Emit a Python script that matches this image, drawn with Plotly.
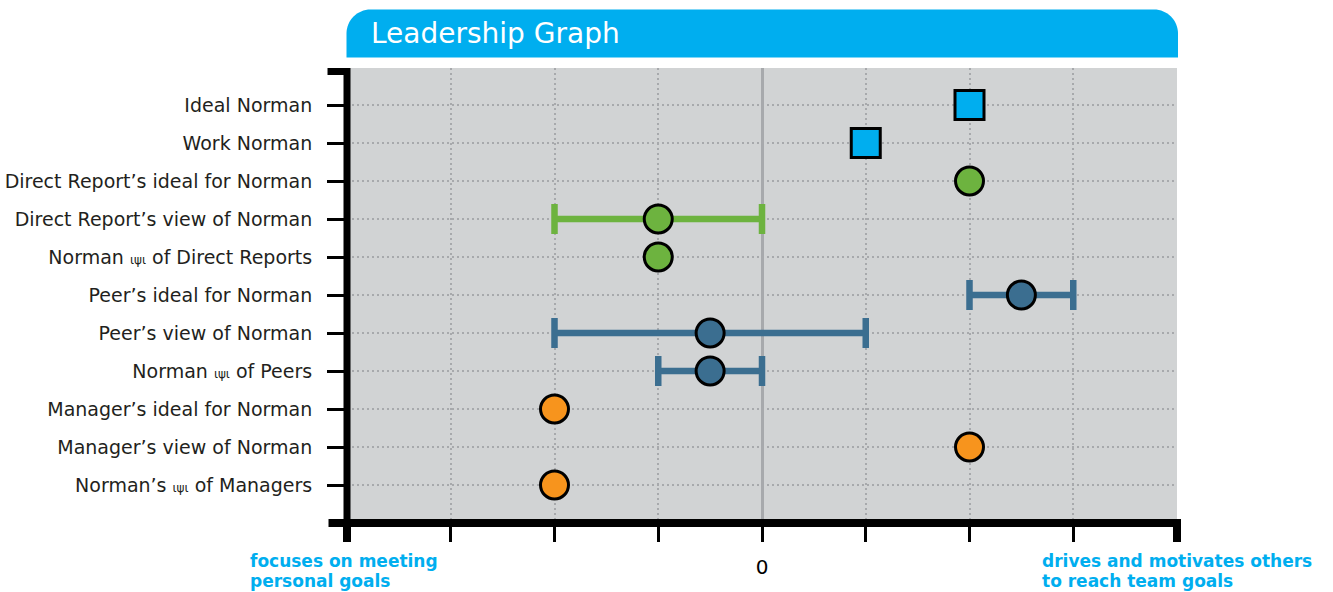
import plotly.graph_objects as go

# ---------------- data ----------------
categories = [
    "Ideal Norman",
    "Work Norman",
    "Direct Report’s ideal for Norman",
    "Direct Report’s view of Norman",
    "Norman <span style='font-size:12px'>ιψι</span> of Direct Reports",
    "Peer’s ideal for Norman",
    "Peer’s view of Norman",
    "Norman <span style='font-size:12px'>ιψι</span> of Peers",
    "Manager’s ideal for Norman",
    "Manager’s view of Norman",
    "Norman’s <span style='font-size:12px'>ιψι</span> of Managers",
]
values = [2, 1, 2, -1, -1, 2.5, -0.5, -0.5, -2, 2, -2]
range_low = [None, None, None, -2, None, 2, -2, -1, None, None, None]
range_high = [None, None, None, 0, None, 3, 1, 0, None, None, None]
groups = ["self", "self", "direct", "direct", "direct", "peer", "peer", "peer",
          "manager", "manager", "manager"]
x_ticks = [-4, -3, -2, -1, 0, 1, 2, 3, 4]
x_tick_labels = ["", "", "", "", "0", "", "", "", ""]

title_text = "Leadership Graph"
left_note = ["focuses on meeting", "personal goals"]
right_note = ["drives and motivates others", "to reach team goals"]

# ---------------- styles ----------------
style = {
    "self": dict(color="#00aeef", symbol="square", size=29),
    "direct": dict(color="#6db33f", symbol="circle", size=28),
    "peer": dict(color="#3b6e90", symbol="circle", size=28),
    "manager": dict(color="#f7941d", symbol="circle", size=28),
}

W, H = 1333, 592
L, R, T, B = 346.5, 1177, 68, 519  # plot area in page px


def px(xp):
    return (xp - L) / (R - L)


def py(yp):
    return (B - yp) / (B - T)


fig = go.Figure()
rows = list(range(len(categories)))
for i, (v, g) in enumerate(zip(values, groups)):
    st = style[g]
    kw = {}
    if range_low[i] is not None:
        kw["error_x"] = dict(
            type="data", symmetric=False,
            array=[range_high[i] - v], arrayminus=[v - range_low[i]],
            color=st["color"], thickness=6.5, width=15,
        )
    fig.add_trace(go.Scatter(
        x=[v], y=[rows[i]], mode="markers",
        marker=dict(color=st["color"], symbol=st["symbol"], size=st["size"],
                    line=dict(color="#000000", width=3)),
        showlegend=False, hoverinfo="skip", cliponaxis=False, **kw,
    ))

# ---------------- decorations ----------------
shapes = []
shapes.append(dict(type="path", xref="paper", yref="paper",
                   path=f"M {px(327)},{py(71.5)} L {px(346.5)},{py(71.5)} L {px(346.5)},{py(527)}",
                   line=dict(color="black", width=7), layer="above"))
shapes.append(dict(type="line", xref="paper", yref="paper",
                   x0=px(328), x1=px(1181), y0=py(523), y1=py(523),
                   line=dict(color="black", width=8), layer="above"))
for xe in (346.5, 1177):
    shapes.append(dict(type="line", xref="paper", yref="paper",
                       x0=px(xe), x1=px(xe), y0=py(523), y1=py(542),
                       line=dict(color="black", width=8), layer="above"))
x0b, x1b, y0b, y1b, r = 346, 1178, 9.5, 57.5, 24
k = 0.45
path = (f"M {px(x0b)},{py(y1b)} L {px(x0b)},{py(y0b + r)} "
        f"C {px(x0b)},{py(y0b + r * k)} {px(x0b + r * k)},{py(y0b)} {px(x0b + r)},{py(y0b)} "
        f"L {px(x1b - r)},{py(y0b)} "
        f"C {px(x1b - r * k)},{py(y0b)} {px(x1b)},{py(y0b + r * k)} {px(x1b)},{py(y0b + r)} "
        f"L {px(x1b)},{py(y1b)} Z")
shapes.append(dict(type="path", xref="paper", yref="paper", path=path,
                   fillcolor="#00aeef", line=dict(width=0), layer="above"))

annotations = [
    dict(text=title_text, xref="paper", yref="paper", x=px(369), y=py(34),
         xanchor="left", yanchor="middle", showarrow=False,
         font=dict(family="DejaVu Sans", size=28, color="white")),
]
for xs, lines in ((247, left_note), (1040, right_note)):
    for j, line in enumerate(lines):
        annotations.append(dict(
            text=f"<b>{line}</b>", xref="paper", yref="paper", x=px(xs), y=py(561 + 20 * j),
            xanchor="left", yanchor="middle", showarrow=False,
            font=dict(family="DejaVu Sans", size=17, color="#00aeef")))

fig.update_layout(
    width=W, height=H,
    margin=dict(l=L, r=W - R, t=T, b=H - B, pad=0, autoexpand=False),
    paper_bgcolor="white", plot_bgcolor="#d1d3d4",
    font=dict(family="DejaVu Sans", color="#231f20"),
    shapes=shapes, annotations=annotations,
    xaxis=dict(
        range=[-4, 4], tickvals=x_ticks, ticktext=x_tick_labels,
        showgrid=True, gridcolor="#a7a9ac", gridwidth=2, griddash="2px,3px",
        zeroline=True, zerolinecolor="#a7a9ac", zerolinewidth=3,
        ticks="outside", ticklen=22, tickwidth=3, tickcolor="black",
        tickfont=dict(size=20, color="black"), ticklabelstandoff=8,
        showline=False, fixedrange=True, automargin=False,
    ),
    yaxis=dict(
        range=[10 + 34 / 38, -37 / 38], tickvals=rows, ticktext=categories,
        showgrid=True, gridcolor="#a7a9ac", gridwidth=2, griddash="2px,3px",
        zeroline=False,
        ticks="outside", ticklen=19, tickwidth=3, tickcolor="black",
        tickfont=dict(size=19, color="#231f20"), ticklabelstandoff=11,
        showline=False, fixedrange=True, automargin=False,
    ),
)

fig.write_html("out.html", config={"displayModeBar": False},
               post_script="document.body.style.margin='0';document.body.style.overflow='hidden';")
